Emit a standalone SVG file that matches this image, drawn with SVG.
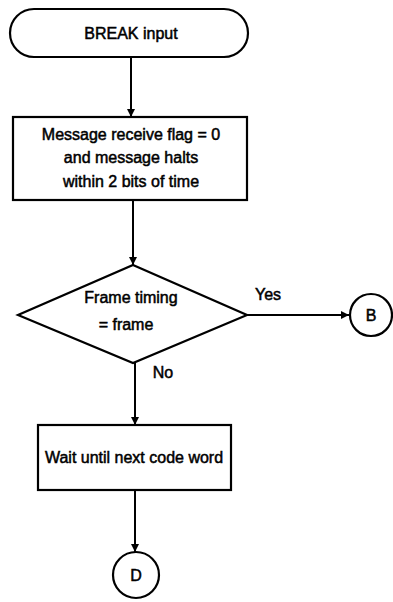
<svg xmlns="http://www.w3.org/2000/svg" width="393" height="602" viewBox="0 0 393 602">
<style>
.s{fill:#fff;stroke:#000;stroke-width:2.2}
.t{font-family:"Liberation Sans",Arial,sans-serif;font-size:16px;fill:#000;text-anchor:middle;stroke:#000;stroke-width:0.5}
.c{fill:none;stroke:#000;stroke-width:2}
</style>
<defs>
<marker id="ah" viewBox="0 0 10 10" refX="10" refY="5" markerWidth="4.5" markerHeight="4" orient="auto" markerUnits="strokeWidth">
<path d="M0,0 L10,5 L0,10 z" fill="#000"/>
</marker>
</defs>
<rect width="393" height="602" fill="#fff"/>
<g id="connectors">
<line class="c" x1="131" y1="57" x2="131" y2="117" marker-end="url(#ah)"/>
<line class="c" x1="133" y1="200" x2="133" y2="265" marker-end="url(#ah)"/>
<line class="c" x1="247" y1="315" x2="349" y2="315" marker-end="url(#ah)"/>
<line class="c" x1="135" y1="363" x2="135" y2="425" marker-end="url(#ah)"/>
<line class="c" x1="135" y1="490" x2="135" y2="552" marker-end="url(#ah)"/>
<text class="t" x="268" y="300">Yes</text>
<text class="t" x="163" y="378">No</text>
</g>
<g id="start">
<rect class="s" x="10" y="9" width="238" height="48" rx="24" ry="24"/>
<text class="t" x="131" y="39">BREAK input</text>
</g>
<g id="msg">
<rect class="s" x="13" y="117" width="234" height="83"/>
<text class="t" x="131" y="140">Message receive flag = 0</text>
<text class="t" x="131" y="163">and message halts</text>
<text class="t" x="131" y="187">within 2 bits of time</text>
</g>
<g id="decision">
<polygon class="s" points="133,265 247,315 133,363 18,315"/>
<text class="t" x="131" y="303">Frame timing</text>
<text class="t" x="126" y="330">= frame</text>
</g>
<g id="B">
<circle class="s" cx="371" cy="315" r="21"/>
<text class="t" x="371" y="321">B</text>
</g>
<g id="wait">
<rect class="s" x="38" y="425" width="193" height="65"/>
<text class="t" x="134" y="463">Wait until next code word</text>
</g>
<g id="D">
<circle class="s" cx="136" cy="575" r="23"/>
<text class="t" x="136" y="581">D</text>
</g>
</svg>
